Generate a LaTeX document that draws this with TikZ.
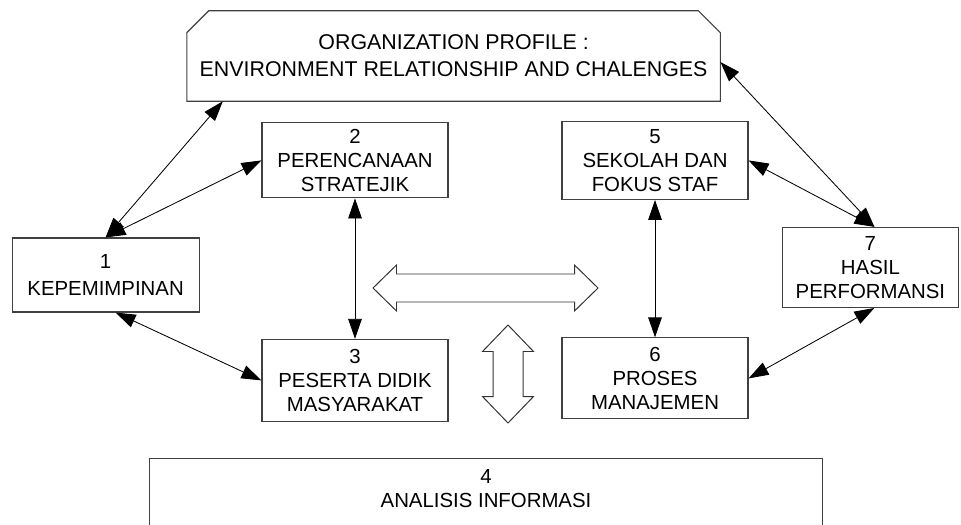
\documentclass[tikz,border=0pt]{standalone}
\usepackage{fontspec}
\setmainfont{Liberation Sans}
\usepackage{tikz}
\usetikzlibrary{arrows.meta}
\tikzstyle{block} = [rectangle, minimum width=4.65cm, minimum height=1.9cm, inner sep=0pt, text centered, align=center, draw=black!75, line width=0.8pt, font=\fontsize{14.5}{17}\selectfont]
\tikzstyle{profilebox} = [rectangle, minimum width=13.325cm, minimum height=2.25cm, inner sep=0pt, text centered, align=center, font=\fontsize{15.2}{19.2}\selectfont]
\tikzstyle{infobox} = [rectangle, minimum width=16.8cm, minimum height=1.5cm, inner sep=0pt, text centered, align=center, font=\fontsize{14.5}{17}\selectfont]
\tikzstyle{boxline} = [draw=black!75, line width=0.8pt]
\tikzstyle{hollow} = [draw=black!80, line width=0.7pt, fill=white]
\tikzstyle{arrow} = [line width=0.6pt, <->, >={Triangle[length=0.5cm,width=0.34cm]}]

\begin{document}
\begin{tikzpicture}[node distance=5.5cm]
\useasboundingbox (0,0) rectangle (24.025,-13.1);

\node (plan) [block, minimum height=1.875cm] at (8.875,-4.01) {2\\PERENCANAAN\\STRATEJIK};
\node (student) [block, below of =plan, minimum height=2.05cm] {3\\PESERTA DIDIK\\MASYARAKAT};
\node (school) [block, right of =plan, xshift=2cm, minimum height=1.95cm] {5\\SEKOLAH DAN\\FOKUS STAF};
\node (process) [block, below of =school, yshift=0.05cm, minimum height=2.025cm] {6\\PROSES\\MANAJEMEN};
\node (lead) [block, left of =plan, xshift=-0.735cm, yshift=-2.865cm, minimum width=4.675cm, minimum height=1.85cm, font=\fontsize{14.5}{19.5}\selectfont] {1\\KEPEMIMPINAN};
\node (result) [block, right of =school, xshift=-0.115cm, yshift=-2.675cm, minimum width=4.4cm, minimum height=2cm] {7\\HASIL\\PERFORMANSI};
\node (profile) [profilebox, above of =plan, xshift=2.465cm, yshift=-2.89cm] {ORGANIZATION PROFILE :\\ENVIRONMENT RELATIONSHIP AND CHALENGES};
\node (info) [infobox, below of =student, xshift=3.275cm, yshift=2.785cm] {4\\ANALISIS INFORMASI};

% outlines of the open boxes
\draw [boxline] (profile.south west) -- ([yshift=-0.55cm]profile.north west) -- ([xshift=0.55cm]profile.north west) -- ([xshift=-0.55cm]profile.north east) -- ([yshift=-0.55cm]profile.north east) -- (profile.south east) -- cycle;
\draw [boxline] ([yshift=-1.7cm]info.north west) -- (info.north west) -- (info.north east) -- ([yshift=-1.7cm]info.north east);

% hollow arrows
\coordinate (hmid) at (12.1375,-7.2);
\coordinate (vmid) at (12.7,-9.35);
\draw [hollow] ([xshift=-2.8125cm]hmid) -- ++(0.5875,0.575) -- ++(0,-0.225) -- ++(4.45,0) -- ++(0,0.225) -- ++(0.5875,-0.575) -- ++(-0.5875,-0.575) -- ++(0,0.225) -- ++(-4.45,0) -- ++(0,-0.225) -- cycle;
\draw [hollow] ([yshift=1.225cm]vmid) -- ++(0.6375,-0.6625) -- ++(-0.2625,0) -- ++(0,-1.125) -- ++(0.2625,0) -- ++(-0.6375,-0.6625) -- ++(-0.6375,0.6625) -- ++(0.2625,0) -- ++(0,1.125) -- ++(-0.2625,0) -- cycle;

\draw [arrow] (lead.north) -- ([xshift=0.9cm]profile.south west);
\draw [arrow] (lead.north) -- (plan.west);
\draw [arrow] ([xshift=0.25cm]lead.south) -- (student.west);
\draw [arrow] (plan) -- (student);
\draw [arrow] (school.south) -- (process.north);
\draw [arrow] (school.east) -- ([xshift=0.1cm]result.north);
\draw [arrow] ([yshift=-0.15cm]profile.east) -- ([xshift=0.1cm]result.north);
\draw [arrow] ([xshift=0.1cm]result.south) -- (process.east);

\end{tikzpicture}
\end{document}
